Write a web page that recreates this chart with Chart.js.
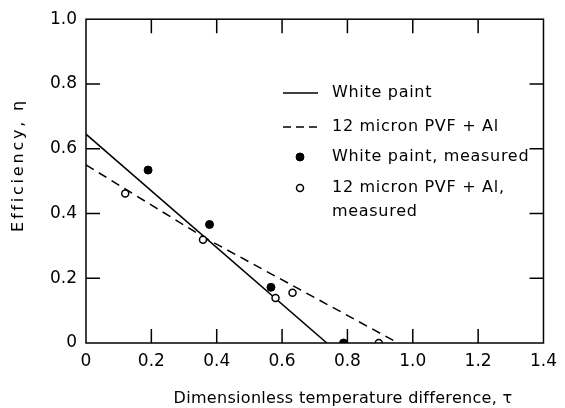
<!DOCTYPE html>
<html>
<head>
<meta charset="utf-8">
<script src="https://cdn.jsdelivr.net/npm/chart.js@4"></script>
<style>
  html, body { margin: 0; padding: 0; background: #fff; }
  #wrap { width: 565px; height: 408px; }
</style>
</head>
<body>
<div id="wrap"><canvas id="myChart" width="565" height="408"></canvas></div>
<script>
// theory lines
const paintLineTau = [0, 0.737];
const paintLineEta = [0.645, 0];
const pvfLineTau = [0, 0.36, 0.955];
const pvfLineEta = [0.55, 0.327, 0];
// measured points
const paintTau = [0.19, 0.378, 0.566, 0.788];
const paintEta = [0.534, 0.366, 0.172, 0];
const pvfTau = [0.12, 0.358, 0.58, 0.632, 0.896];
const pvfEta = [0.462, 0.319, 0.139, 0.155, 0];

const xTicks = [0, 0.2, 0.4, 0.6, 0.8, 1.0, 1.2, 1.4];
const yTicks = [0, 0.2, 0.4, 0.6, 0.8, 1.0];
const legendLabels = ['White paint', '12 micron PVF + Al', 'White paint, measured', ['12 micron PVF + Al,', 'measured']];
const xTitle = 'Dimensionless temperature difference, τ';
const yTitle = 'Efficiency, η';

const pts = (xs, ys) => xs.map((x, i) => ({ x: x, y: ys[i] }));
const FONT = '"DejaVu Sans", sans-serif';

const framePlugin = {
  id: 'frame',
  afterDraw(chart) {
    const ctx = chart.ctx;
    const a = chart.chartArea;
    const xs = chart.scales.x, ys = chart.scales.y;
    const len = 14;
    ctx.save();
    ctx.strokeStyle = '#000';
    ctx.lineWidth = 1.5;
    ctx.strokeRect(a.left, a.top, a.right - a.left, a.bottom - a.top);
    ctx.beginPath();
    xTicks.slice(1, -1).forEach(v => {
      const px = xs.getPixelForValue(v);
      ctx.moveTo(px, a.bottom); ctx.lineTo(px, a.bottom - len);
      ctx.moveTo(px, a.top); ctx.lineTo(px, a.top + len);
    });
    yTicks.slice(1, -1).forEach(v => {
      const py = ys.getPixelForValue(v);
      ctx.moveTo(a.left, py); ctx.lineTo(a.left + len, py);
      ctx.moveTo(a.right, py); ctx.lineTo(a.right - len, py);
    });
    ctx.stroke();

    // axis titles
    ctx.fillStyle = '#000';
    ctx.font = '16px ' + FONT;
    ctx.textAlign = 'center';
    ctx.textBaseline = 'alphabetic';
    ctx.letterSpacing = '0.3px';
    ctx.fillText(xTitle, 343, 403);
    ctx.translate(23, 165);
    ctx.rotate(-Math.PI / 2);
    ctx.letterSpacing = '2.8px';
    ctx.fillText(yTitle, 0, 0);
    ctx.restore();

    // legend
    const ds = chart.data.datasets;
    const rows = [93, 127, 157, 188];
    ctx.save();
    ctx.font = '16px ' + FONT;
    ctx.letterSpacing = '0.7px';
    ctx.textAlign = 'left';
    ctx.textBaseline = 'middle';
    ctx.fillStyle = '#000';
    ctx.strokeStyle = '#000';
    const order = [2, 3, 0, 1];
    order.forEach((di, r) => {
      const d = ds[di];
      const y = rows[r];
      if (d.showLine) {
        ctx.lineWidth = d.borderWidth;
        ctx.setLineDash(d.borderDash && d.borderDash.length ? [8, 5] : []);
        ctx.beginPath();
        ctx.moveTo(283, y); ctx.lineTo(318, y);
        ctx.stroke();
        ctx.setLineDash([]);
      } else {
        ctx.beginPath();
        ctx.arc(300, y, d.pointRadius, 0, Math.PI * 2);
        ctx.fillStyle = d.backgroundColor;
        ctx.fill();
        ctx.lineWidth = d.borderWidth;
        ctx.strokeStyle = d.borderColor;
        ctx.stroke();
        ctx.fillStyle = '#000';
      }
      const lab = legendLabels[r];
      if (Array.isArray(lab)) {
        lab.forEach((t, k) => ctx.fillText(t, 332, y + k * 24));
      } else {
        ctx.fillText(lab, 332, y);
      }
    });
    ctx.restore();
  }
};

new Chart(document.getElementById('myChart'), {
  type: 'scatter',
  data: {
    datasets: [
      {
        label: legendLabels[2],
        data: pts(paintTau, paintEta),
        pointRadius: 4,
        backgroundColor: '#000',
        borderColor: '#000',
        borderWidth: 1,
        order: 0,
      },
      {
        label: legendLabels[3].join(' '),
        data: pts(pvfTau, pvfEta),
        pointRadius: 3.5,
        backgroundColor: '#fff',
        borderColor: '#000',
        borderWidth: 1.5,
        order: 0,
      },
      {
        label: legendLabels[0],
        data: pts(paintLineTau, paintLineEta),
        showLine: true,
        pointRadius: 0,
        borderColor: '#000',
        borderWidth: 1.5,
        order: 1,
      },
      {
        label: legendLabels[1],
        data: pts(pvfLineTau, pvfLineEta),
        showLine: true,
        pointRadius: 0,
        borderColor: '#000',
        borderWidth: 1.5,
        borderDash: [9, 6],
        order: 1,
      },
    ],
  },
  options: {
    responsive: false,
    animation: false,
    layout: { padding: { top: 15, right: 17, left: 0, bottom: 0 } },
    plugins: { legend: { display: false }, tooltip: { enabled: false } },
    scales: {
      x: {
        type: 'linear',
        min: 0,
        max: 1.4,
        afterBuildTicks: s => { s.ticks = xTicks.map(v => ({ value: v })); },
        afterFit: s => { s.height = 65; },
        grid: { display: false, drawTicks: false },
        border: { display: false },
        ticks: {
          color: '#000',
          padding: 8,
          maxRotation: 0,
          font: { family: FONT, size: 17 },
          callback: v => (v === 0 ? '0' : v.toFixed(1)),
        },
      },
      y: {
        type: 'linear',
        min: 0,
        max: 1.0,
        afterBuildTicks: s => { s.ticks = yTicks.map(v => ({ value: v })); },
        afterFit: s => { s.width = 86; },
        grid: { display: false, drawTicks: false },
        border: { display: false },
        ticks: {
          color: '#000',
          padding: 9,
          font: { family: FONT, size: 17 },
          callback: v => (v === 0 ? '0' : v.toFixed(1)),
        },
      },
    },
  },
  plugins: [framePlugin],
});
</script>
</body>
</html>
